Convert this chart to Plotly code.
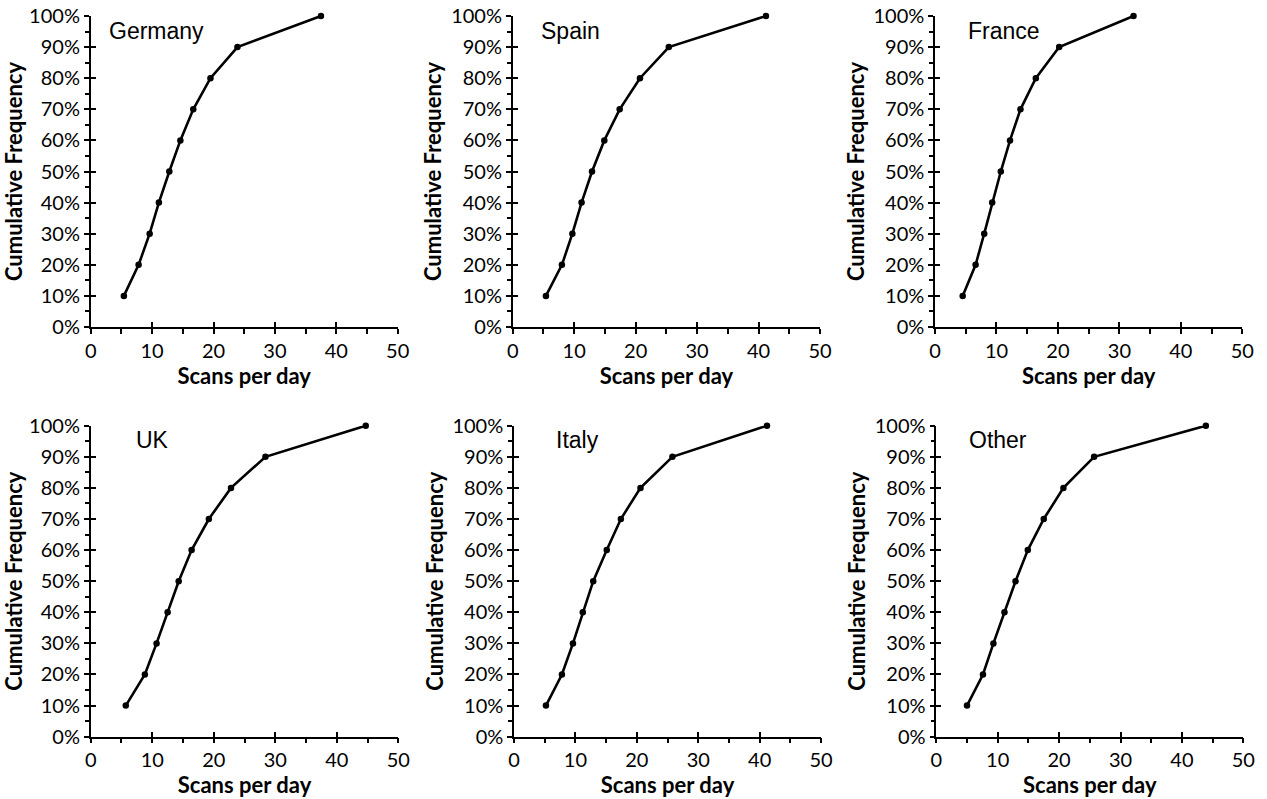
import plotly.graph_objects as go

# Cumulative frequency levels shared by every country
cum_freq = [0.1, 0.2, 0.3, 0.4, 0.5, 0.6, 0.7, 0.8, 0.9, 1.0]

# Scans per day at each cumulative-frequency level
germany = [5.4, 7.8, 9.6, 11.1, 12.8, 14.6, 16.7, 19.5, 23.9, 37.5]
spain = [5.4, 8.0, 9.7, 11.2, 12.9, 14.9, 17.4, 20.7, 25.4, 41.2]
france = [4.5, 6.6, 8.0, 9.3, 10.7, 12.2, 13.9, 16.4, 20.2, 32.3]
uk = [5.7, 8.8, 10.7, 12.5, 14.3, 16.4, 19.2, 22.8, 28.4, 44.7]
italy = [5.2, 7.8, 9.6, 11.2, 12.9, 15.1, 17.4, 20.6, 25.8, 41.2]
other = [5.0, 7.6, 9.3, 11.1, 12.9, 14.9, 17.5, 20.7, 25.7, 43.9]

countries = ["Germany", "Spain", "France", "UK", "Italy", "Other"]
series = [germany, spain, france, uk, italy, other]

x_ticks = [0, 10, 20, 30, 40, 50]
y_ticks = [0, 0.1, 0.2, 0.3, 0.4, 0.5, 0.6, 0.7, 0.8, 0.9, 1.0]
y_tick_text = [f"{int(round(v * 100))}%" for v in y_ticks]

W, H = 1267, 799
# plot-area domains (paper fractions) for each panel
x_domains = [
    [0.0716, 0.3139], [0.4047, 0.6472], [0.7380, 0.9805],
    [0.0716, 0.3144], [0.4057, 0.6480], [0.7390, 0.9813],
]
y_domains = [[0.5907, 0.9800]] * 3 + [[0.0780, 0.4672]] * 3
label_x = [0.053, 0.084, 0.102, 0.140, 0.130, 0.100]

tick_font = dict(family="Lato, Open Sans, sans-serif", size=20, color="black")
title_font = dict(family="Lato, Open Sans, sans-serif", size=22, color="black")


def sfx(n):
    return "" if n == 1 else str(n)


fig = go.Figure()
layout = dict(
    width=W, height=H,
    margin=dict(l=0, r=0, t=0, b=0),
    paper_bgcolor="white", plot_bgcolor="white",
    showlegend=False,
)

for i, (name, xs) in enumerate(zip(countries, series)):
    n = i + 1
    k = n + 6  # overlay axes carrying the inner half of the major ticks
    xa, ya = f"x{sfx(n)}", f"y{sfx(n)}"
    fig.add_trace(go.Scatter(
        x=xs, y=cum_freq, xaxis=xa, yaxis=ya,
        mode="lines+markers",
        line=dict(color="black", width=2.6),
        marker=dict(color="black", size=6.5),
        cliponaxis=False,
    ))
    fig.add_trace(go.Scatter(x=[], y=[], xaxis=f"x{k}", yaxis=f"y{k}"))

    layout[f"xaxis{sfx(n)}"] = dict(
        domain=x_domains[i], anchor=ya, range=[0, 50], automargin=False,
        tickvals=x_ticks, ticks="outside", ticklen=5, tickwidth=1.5,
        tickcolor="black", showline=True, linecolor="black", linewidth=1.5,
        showgrid=False, zeroline=False, tickfont=tick_font,
        minor=dict(tickvals=[5, 15, 25, 35, 45], ticks="outside",
                   ticklen=5, tickwidth=1.5, tickcolor="black", showgrid=False),
        title=dict(text="<b>Scans per day</b>", font=title_font, standoff=0),
        fixedrange=True,
    )
    layout[f"yaxis{sfx(n)}"] = dict(
        domain=y_domains[i], anchor=xa, range=[0, 1], automargin=False,
        tickvals=y_ticks, ticktext=y_tick_text,
        ticks="outside", ticklen=5, tickwidth=1.5, tickcolor="black",
        showline=True, linecolor="black", linewidth=1.5,
        showgrid=False, zeroline=False, tickfont=tick_font,
        minor=dict(tickvals=[0.05 + 0.1 * j for j in range(10)],
                   ticks="outside", ticklen=4, tickwidth=1.5,
                   tickcolor="black", showgrid=False),
        title=dict(text="<b>Cumulative Frequency</b>", font=title_font, standoff=3),
        fixedrange=True,
    )
    layout[f"xaxis{k}"] = dict(
        overlaying=xa, anchor=f"y{k}", range=[0, 50], domain=x_domains[i],
        tickvals=x_ticks, ticks="inside", ticklen=5, tickwidth=1.5,
        tickcolor="black", showticklabels=False, showline=False,
        showgrid=False, zeroline=False, fixedrange=True, automargin=False,
    )
    layout[f"yaxis{k}"] = dict(
        overlaying=ya, anchor=f"x{k}", range=[0, 1], domain=y_domains[i],
        tickvals=y_ticks, ticks="inside", ticklen=5, tickwidth=1.5,
        tickcolor="black", showticklabels=False, showline=False,
        showgrid=False, zeroline=False, fixedrange=True, automargin=False,
    )

fig.update_layout(**layout)

for i, name in enumerate(countries):
    n = i + 1
    fig.add_annotation(
        text=name, xref=f"x{sfx(n)} domain", yref=f"y{sfx(n)} domain",
        x=label_x[i], y=0.953, xanchor="left", yanchor="middle",
        showarrow=False,
        font=dict(family="Liberation Sans, Arial, sans-serif", size=23, color="black"),
    )

fig.write_html("out.html")
